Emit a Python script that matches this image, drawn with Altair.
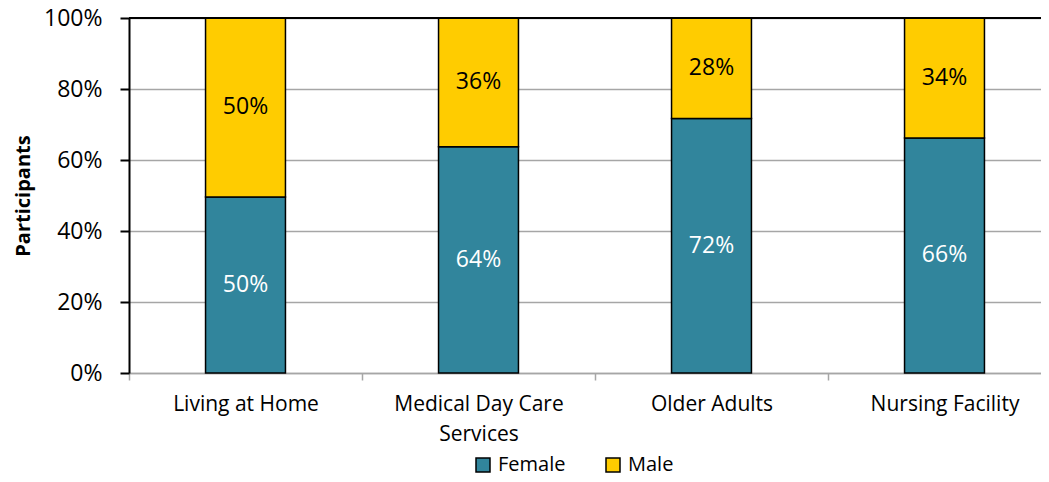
import altair as alt
import pandas as pd

categories = ["Living at Home", "Medical Day Care Services", "Older Adults", "Nursing Facility"]
female = [0.496, 0.637, 0.717, 0.662]
male = [0.504, 0.363, 0.283, 0.338]
series = ["Female", "Male"]
colors = ["#31859C", "#FFCC00"]

rows = []
for i, c in enumerate(categories):
    rows.append({"Category": c, "Gender": "Female", "Share": female[i], "ord": 0})
    rows.append({"Category": c, "Gender": "Male", "Share": male[i], "ord": 1})
df = pd.DataFrame(rows)

FONT = "Open Sans"

x = alt.X(
    "Category:N",
    sort=categories,
    scale=alt.Scale(paddingInner=0, paddingOuter=0, range=[0, 932]),
    axis=alt.Axis(
        title=None,
        labelAngle=0,
        labelFontSize=21,
        labelColor="#000000",
        labelFont=FONT,
        labelPadding=13,
        labelLineHeight=30,
        labelLimit=400,
        labelExpr="datum.value == 'Medical Day Care Services' ? ['Medical Day Care', 'Services'] : datum.value",
        domainColor="#A6A6A6",
        domainWidth=1.5,
        tickColor="#A6A6A6",
        tickWidth=1.5,
        tickSize=7,
        tickBand="extent",
        grid=False,
    ),
)

bars = alt.Chart(df).mark_bar(
    width=alt.RelativeBandSize(0.343), stroke="#000000", strokeWidth=1.5
).encode(
    x=x,
    y=alt.Y(
        "Share:Q",
        stack="zero",
        scale=alt.Scale(domain=[0, 1], nice=False),
        axis=alt.Axis(
            title="Participants",
            titleFontSize=20,
            titleFont=FONT,
            titleFontWeight="bold",
            titleColor="#000000",
            titlePadding=10,
            format=".0%",
            values=[0, 0.2, 0.4, 0.6, 0.8, 1.0],
            labelFontSize=23,
            labelFont=FONT,
            labelColor="#000000",
            labelPadding=18,
            domainColor="#000000",
            domainWidth=2,
            tickColor="#000000",
            tickWidth=2,
            tickSize=9,
            gridColor="#A6A6A6",
            gridWidth=1.5,
        ),
    ),
    color=alt.Color(
        "Gender:N",
        sort=series,
        scale=alt.Scale(domain=series, range=colors),
        legend=alt.Legend(
            title=None,
            orient="none",
            direction="horizontal",
            legendX=344,
            legendY=437,
            symbolType="square",
            symbolSize=196,
            symbolStrokeColor="#000000",
            symbolStrokeWidth=1.5,
            symbolOpacity=1,
            labelFontSize=20,
            labelFont=FONT,
            labelColor="#000000",
            labelOffset=5,
            columnPadding=37,
        ),
    ),
    order=alt.Order("ord:Q"),
)

labels = alt.Chart(df).transform_stack(
    stack="Share", groupby=["Category"], as_=["y0", "y1"], sort=[alt.SortField("ord")]
).transform_calculate(
    mid="(datum.y0 + datum.y1) / 2"
).mark_text(fontSize=23, font=FONT).encode(
    x=alt.X("Category:N", sort=categories),
    y=alt.Y("mid:Q"),
    text=alt.Text("Share:Q", format=".0%"),
    color=alt.condition(alt.datum.Gender == "Female", alt.value("#FFFFFF"), alt.value("#000000")),
)

top = alt.Chart(df).mark_rule(color="#000000", strokeWidth=2).encode(y=alt.datum(1.0))

chart = alt.layer(bars, labels, top).properties(
    width=912,
    height=355,
    padding={"left": 121, "top": 10, "right": 0, "bottom": 101},
    autosize=alt.AutoSizeParams(type="none"),
).configure_view(stroke=None).configure(font=FONT, background="#FFFFFF")

chart.save("out.html", embed_options={"renderer": "svg", "actions": False})
